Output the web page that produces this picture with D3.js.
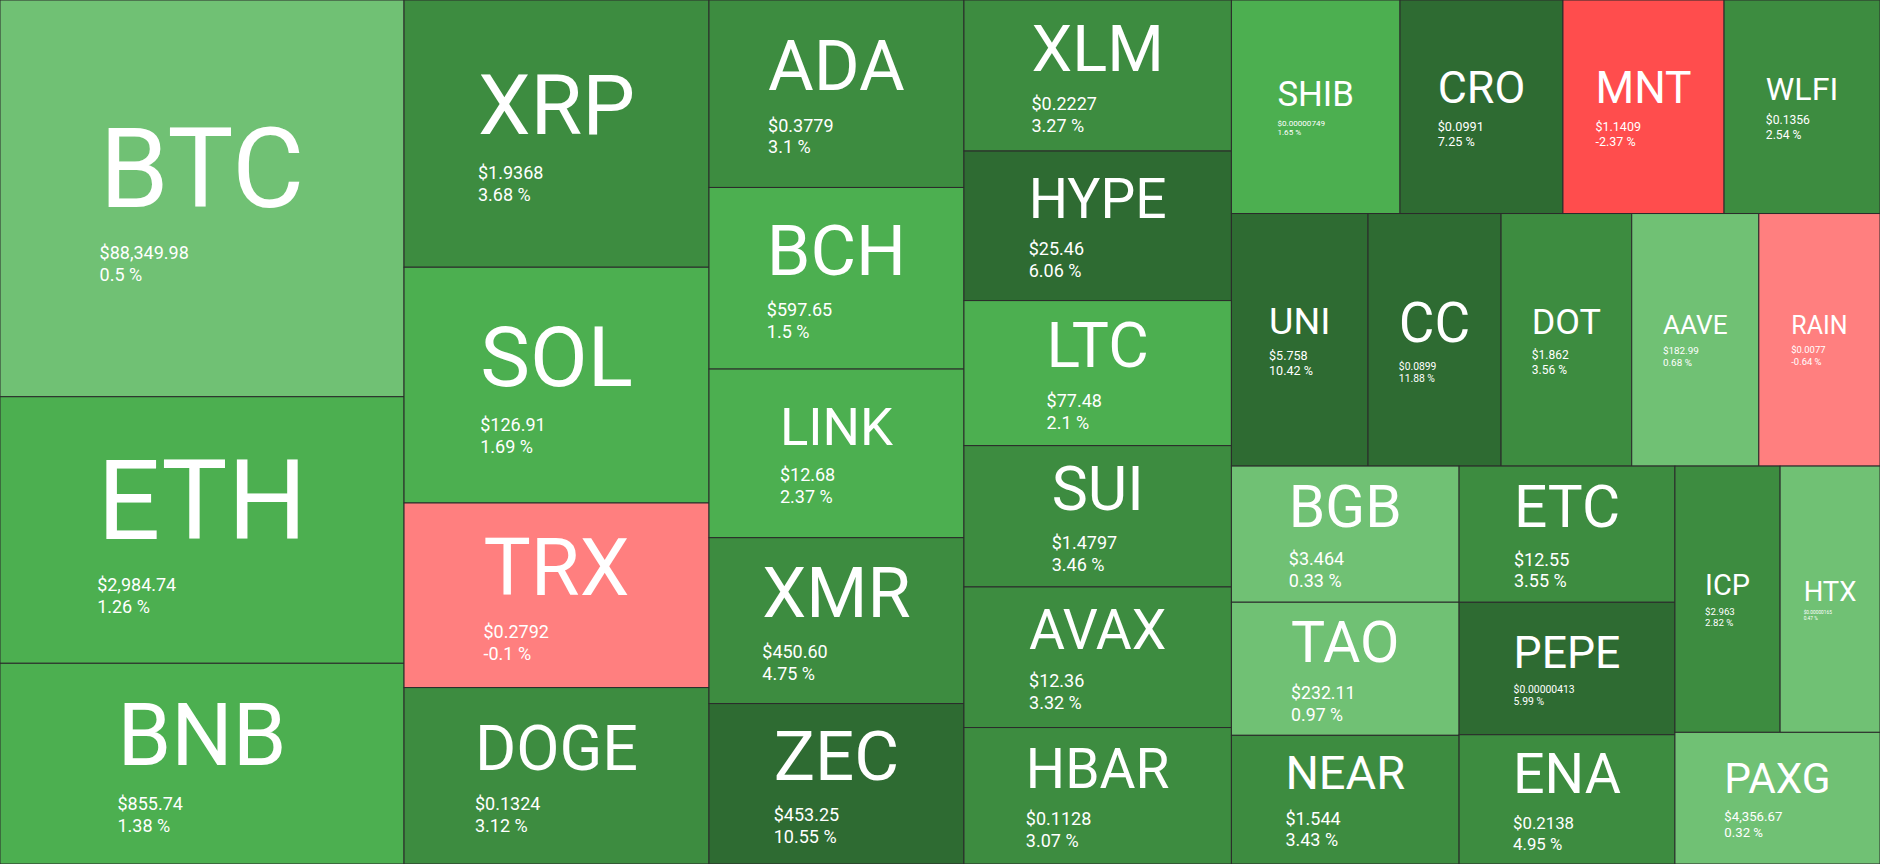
<!DOCTYPE html>
<html>
<head>
<meta charset="utf-8">
<script src="https://cdn.jsdelivr.net/npm/d3@7"></script>
<style>
  html, body { margin: 0; padding: 0; background: #2b2b2b; overflow: hidden; }
  svg { display: block; font-family: Roboto, "Noto Sans", sans-serif; }
</style>
</head>
<body>
<div id="heatmap"></div>
<script>
//========================
//   Data
//========================

//Coin symbols, in the order the treemap lays them out
var symbols = ["BTC", "ETH", "BNB", "XRP", "SOL", "TRX", "DOGE", "ADA", "BCH", "LINK", "XMR", "ZEC",
               "XLM", "HYPE", "LTC", "SUI", "AVAX", "HBAR", "SHIB", "CRO", "MNT", "WLFI", "UNI", "CC",
               "DOT", "AAVE", "RAIN", "BGB", "TAO", "NEAR", "ETC", "PEPE", "ENA", "ICP", "HTX", "PAXG"];

//Prices as shown (without the $)
var prices = ["88,349.98", "2,984.74", "855.74", "1.9368", "126.91", "0.2792", "0.1324", "0.3779", "597.65", "12.68",
              "450.60", "453.25", "0.2227", "25.46", "77.48", "1.4797", "12.36", "0.1128", "0.00000749", "0.0991",
              "1.1409", "0.1356", "5.758", "0.0899", "1.862", "182.99", "0.0077", "3.464", "232.11", "1.544",
              "12.55", "0.00000413", "0.2138", "2.963", "0.00000165", "4,356.67"];

//24h change in %
var changes = [0.5, 1.26, 1.38, 3.68, 1.69, -0.1, 3.12, 3.1, 1.5, 2.37,
               4.75, 10.55, 3.27, 6.06, 2.1, 3.46, 3.32, 3.07, 1.65, 7.25,
               -2.37, 2.54, 10.42, 11.88, 3.56, 0.68, -0.64, 0.33, 0.97, 3.43,
               3.55, 5.99, 4.95, 2.82, 0.47, 0.32];

//Relative tile sizes (estimated tile areas, thousands of px)
var weights = [160.3, 107.7, 81.1, 81.5, 71.9, 56.3, 53.8, 47.8, 46.3, 43.0,
               42.3, 40.9, 40.4, 40.0, 38.8, 37.8, 37.6, 36.5, 36.0, 34.8,
               34.4, 33.3, 34.5, 33.6, 33.0, 32.1, 30.6, 31.0, 30.3, 29.3,
               29.4, 28.6, 27.9, 28.0, 26.6, 27.0];

//========================
//   Setup
//========================

var width = 1880;
var height = 864;

var svg = d3.select("#heatmap").append("svg")
  .attr("width", width)
  .attr("height", height);

//Colour buckets by % change
var color = d3.scaleThreshold()
  .domain([-1, 0, 1, 2.5, 5])
  .range(["#ff4d4d", "#ff7f7f", "#70c174", "#4caf50", "#3d8c40", "#2e6b32"]);

var tiles = symbols.map(function(s, i) {
  return { symbol: s, price: prices[i], change: changes[i], weight: weights[i] };
});

var root = d3.hierarchy({ children: tiles })
  .sum(function(d) { return d.weight || 0; });

d3.treemap()
  .size([width, height])
  .tile(d3.treemapSquarify)(root);

//========================
//   Drawing the tiles
//========================

var cell = svg.selectAll("g.cell")
  .data(root.leaves())
  .enter().append("g")
  .attr("class", "cell")
  .attr("transform", function(d) { return "translate(" + d.x0 + "," + d.y0 + ")"; });

cell.append("rect")
  .attr("width", function(d) { return d.x1 - d.x0; })
  .attr("height", function(d) { return d.y1 - d.y0; })
  .attr("fill", function(d) { return color(d.data.change); })
  .attr("stroke", "#2b2b2b")
  .attr("stroke-width", 1);

cell.each(function(d) {
  var g = d3.select(this);
  var w = d.x1 - d.x0, h = d.y1 - d.y0;

  //Symbol size fits the tile width by letter count, capped by height
  var symSize = Math.min(0.825 * w / d.data.symbol.length, 0.43 * h);

  var sym = g.append("text")
    .attr("fill", "#ffffff")
    .style("font-size", symSize + "px")
    .text(d.data.symbol);

  var price = g.append("text")
    .attr("fill", "#ffffff")
    .style("font-size", "18px")
    .text("$" + d.data.price);

  var pct = g.append("text")
    .attr("fill", "#ffffff")
    .text(d.data.change + " %");

  //Shrink the two small lines when the price string is long for the tile
  var len18 = price.node().getComputedTextLength();
  var infoSize = Math.min(18, 18 * 0.283 * w / len18);

  var symLen = sym.node().getComputedTextLength();
  var left = w / 2 - symLen / 2;
  var symY = h / 2 + 0.297 * symSize - 1.35 * infoSize;
  var priceY = symY + 0.26 * symSize + 1.28 * infoSize;

  sym.attr("x", left).attr("y", symY);
  price.style("font-size", infoSize + "px").attr("x", left).attr("y", priceY);
  pct.style("font-size", infoSize + "px").attr("x", left).attr("y", priceY + 1.22 * infoSize);
});
</script>
</body>
</html>
